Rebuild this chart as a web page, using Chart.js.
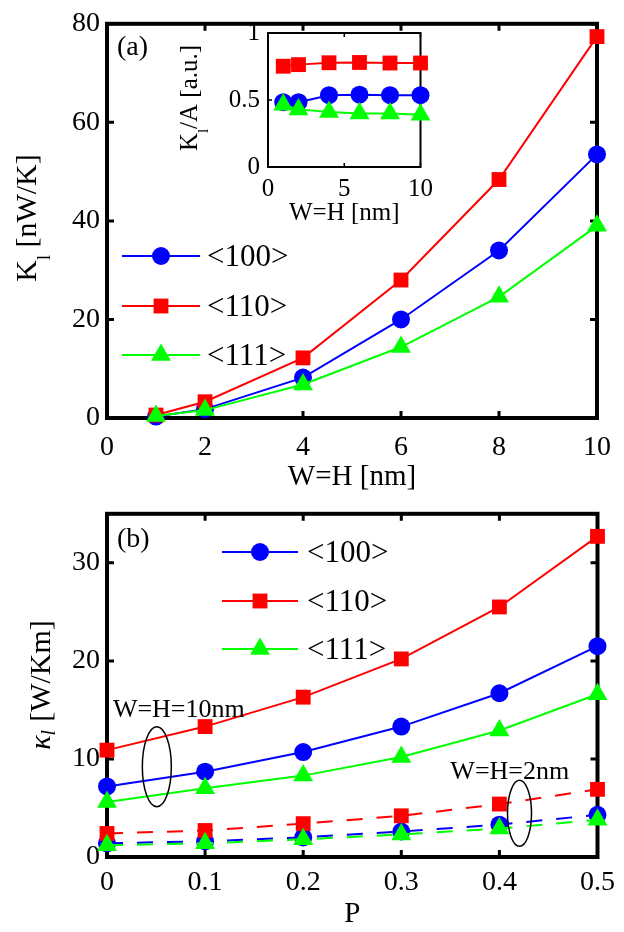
<!DOCTYPE html>
<html>
<head>
<meta charset="utf-8">
<script src="https://cdn.jsdelivr.net/npm/chart.js@4.4.0/dist/chart.umd.min.js"></script>
<style>
html, body { margin: 0; padding: 0; background: #fff; }
#page { position: relative; width: 624px; height: 932px; overflow: hidden; }
.box { position: absolute; }
</style>
</head>
<body>
<div id="page">
  <div class="box" style="left:0;top:0"><canvas id="chartA" width="624" height="495"></canvas></div>
  <div class="box" style="left:0;top:490px"><canvas id="chartB" width="624" height="442"></canvas></div>
  <div class="box" style="left:170px;top:10px"><canvas id="chartInset" width="270" height="218"></canvas></div>
</div>
<script>
// ---- data ----
const directions = ['<100>', '<110>', '<111>'];

// (a) thermal conductance vs wire size
const sizes = [1, 2, 4, 6, 8, 10];
const k100 = [0.3, 1.8, 8.2, 20.0, 34.0, 53.5];
const k110 = [0.6, 3.3, 12.2, 28.0, 48.4, 77.4];
const k111 = [0.4, 1.6, 6.8, 14.4, 24.6, 39.0];

// inset: conductance per area
const ka100 = [0.484, 0.484, 0.536, 0.540, 0.536, 0.536];
const ka110 = [0.752, 0.764, 0.778, 0.780, 0.776, 0.776];
const ka111 = [0.464, 0.430, 0.410, 0.400, 0.400, 0.390];

// (b) conductivity vs P
const pValues = [0, 0.1, 0.2, 0.3, 0.4, 0.5];
const kap100w10 = [7.2, 8.7, 10.7, 13.3, 16.7, 21.5];
const kap110w10 = [10.9, 13.3, 16.3, 20.2, 25.5, 32.7];
const kap111w10 = [5.6, 7.0, 8.3, 10.2, 12.9, 16.6];
const kap100w2 = [1.4, 1.6, 2.0, 2.6, 3.3, 4.3];
const kap110w2 = [2.4, 2.7, 3.4, 4.2, 5.4, 6.9];
const kap111w2 = [1.2, 1.4, 1.8, 2.3, 2.9, 3.8];

// tick labels
const xTicksA = [0, 2, 4, 6, 8, 10];
const yTicksA = [0, 20, 40, 60, 80];
const xTicksInset = [0, 5, 10];
const yTicksInset = [0, 0.5, 1];
const xTicksB = [0, 0.1, 0.2, 0.3, 0.4, 0.5];
const yTicksB = [0, 10, 20, 30];

// ---- styling ----
const SERIF = '"Liberation Serif", "Times New Roman", serif';
const looks = [
  { color: '#0000ff', pointStyle: 'circle', radius: 9, order: 2 },
  { color: '#ff0000', pointStyle: 'rect', radius: 10.5, order: 1 },
  { color: '#00ff00', pointStyle: 'triangle', radius: 11.5, order: 0 }
];

function series(xs, ys, i, dash) {
  const s = looks[i];
  return {
    label: directions[i],
    data: xs.map((x, j) => ({ x: x, y: ys[j] })),
    borderColor: s.color,
    backgroundColor: s.color,
    pointBackgroundColor: s.color,
    pointBorderWidth: 0,
    pointRadius: s.radius,
    pointStyle: s.pointStyle,
    borderWidth: 2,
    borderDash: dash || [],
    order: s.order,
    clip: false,
    tension: 0
  };
}

function fixedTicks(values) {
  return function (scale) { scale.ticks = values.map(v => ({ value: v })); };
}

// box frame + inward ticks on all four sides
const framePlugin = {
  id: 'frame',
  beforeDatasetsDraw(chart, args, o) {
    const { ctx, chartArea: a, scales } = chart;
    const x = scales.x, y = scales.y;
    ctx.save();
    ctx.strokeStyle = '#000';
    ctx.lineWidth = o.tickWidth;
    ctx.beginPath();
    x.ticks.forEach(t => {
      const px = x.getPixelForValue(t.value);
      ctx.moveTo(px, a.bottom); ctx.lineTo(px, a.bottom - o.tickLen);
      ctx.moveTo(px, a.top); ctx.lineTo(px, a.top + o.tickLen);
    });
    y.ticks.forEach(t => {
      const py = y.getPixelForValue(t.value);
      ctx.moveTo(a.left, py); ctx.lineTo(a.left + o.tickLen, py);
      ctx.moveTo(a.right, py); ctx.lineTo(a.right - o.tickLen, py);
    });
    ctx.stroke();
    ctx.lineWidth = o.width;
    ctx.strokeRect(a.left, a.top, a.right - a.left, a.bottom - a.top);
    ctx.restore();
  }
};

function drawRich(ctx, parts, bx, by, rotate) {
  ctx.save();
  ctx.translate(bx, by);
  if (rotate) ctx.rotate(-Math.PI / 2);
  ctx.fillStyle = '#000';
  ctx.textBaseline = 'alphabetic';
  ctx.textAlign = 'left';
  let total = 0;
  parts.forEach(p => { ctx.font = p.font; p.w = ctx.measureText(p.text).width; total += p.w + (p.gap || 0); });
  let x = -total / 2;
  parts.forEach(p => { ctx.font = p.font; ctx.fillText(p.text, x, p.dy || 0); x += p.w + (p.gap || 0); });
  ctx.restore();
}

// legend, labels, ellipses, y titles
const decorPlugin = {
  id: 'decor',
  afterDraw(chart, args, o) {
    const { ctx, scales } = chart;
    const x = scales.x, y = scales.y;
    ctx.save();
    if (o.legend) {
      const L = o.legend;
      L.items.forEach((di, k) => {
        const ds = chart.data.datasets[di];
        const ly = L.ys[k];
        ctx.strokeStyle = ds.borderColor;
        ctx.lineWidth = 2;
        ctx.setLineDash([]);
        ctx.beginPath(); ctx.moveTo(L.x1, ly); ctx.lineTo(L.x2, ly); ctx.stroke();
        ctx.fillStyle = ds.pointBackgroundColor;
        Chart.helpers.drawPoint(ctx, { pointStyle: ds.pointStyle, radius: ds.pointRadius, rotation: 0, borderWidth: 0 }, (L.x1 + L.x2) / 2, ly);
        ctx.fillStyle = '#000';
        ctx.font = L.font;
        ctx.textBaseline = 'alphabetic';
        ctx.textAlign = 'left';
        ctx.fillText(ds.label, L.textX, ly + L.baseShift);
      });
    }
    (o.texts || []).forEach(t => {
      ctx.fillStyle = '#000';
      ctx.font = t.font;
      ctx.textBaseline = 'alphabetic';
      ctx.textAlign = 'left';
      const px = t.data ? x.getPixelForValue(t.x) : t.x;
      const py = t.data ? y.getPixelForValue(t.y) : t.y;
      ctx.fillText(t.text, px, py);
    });
    (o.ellipses || []).forEach(e => {
      ctx.strokeStyle = '#000';
      ctx.lineWidth = 1.5;
      ctx.setLineDash([]);
      ctx.beginPath();
      ctx.ellipse(x.getPixelForValue(e.x), y.getPixelForValue(e.y), e.rx, e.ry, 0, 0, Math.PI * 2);
      ctx.stroke();
    });
    if (o.yTitle) drawRich(ctx, o.yTitle.parts, o.yTitle.bx, o.yTitle.by, true);
    ctx.restore();
  }
};

function axisOptions(ticks, min, max, size, pad, fitSize, isX, title, titleSize) {
  const opts = {
    type: 'linear',
    min: min,
    max: max,
    afterBuildTicks: fixedTicks(ticks),
    grid: { display: false, drawTicks: false },
    border: { display: false },
    ticks: { color: '#000', font: { family: SERIF, size: size }, padding: pad, callback: v => String(v) },
    afterFit(scale) { if (isX) scale.height = fitSize; else scale.width = fitSize; }
  };
  if (title) opts.title = { display: true, text: title, color: '#000', font: { family: SERIF, size: titleSize }, padding: { top: 0, bottom: 0 } };
  return opts;
}

function baseOptions(pad) {
  return {
    responsive: false,
    animation: false,
    events: [],
    layout: { padding: pad },
    plugins: { legend: { display: false }, tooltip: { enabled: false } }
  };
}

// ---- panel (a) ----
const optsA = baseOptions({ left: 0, top: 18, right: 20, bottom: 0 });
optsA.scales = {
  x: axisOptions(xTicksA, 0, 10, 28, 13, 77, true, 'W=H [nm]', 29),
  y: axisOptions(yTicksA, 0, 80, 28, 7, 107, false)
};
optsA.plugins.frame = { width: 4, tickWidth: 3, tickLen: 7 };
optsA.plugins.decor = {
  legend: { items: [0, 1, 2], x1: 122, x2: 200, textX: 207, ys: [256, 306, 355], font: '31px ' + SERIF, baseShift: 10 },
  texts: [{ text: '(a)', x: 117, y: 55, font: '28px ' + SERIF }],
  yTitle: {
    bx: 36, by: 218,
    parts: [
      { text: 'K', font: '30px ' + SERIF },
      { text: 'l', font: '18px ' + SERIF, dy: 14 },
      { text: ' [nW/K]', font: '30px ' + SERIF }
    ]
  }
};
new Chart(document.getElementById('chartA'), {
  type: 'line',
  data: { datasets: [series(sizes, k100, 0), series(sizes, k110, 1), series(sizes, k111, 2)] },
  options: optsA,
  plugins: [framePlugin, decorPlugin]
});

// ---- inset ----
const optsI = baseOptions({ left: 0, top: 17, right: 17, bottom: 0 });
optsI.scales = {
  x: axisOptions(xTicksInset, 0, 10, 25, 7, 61, true, 'W=H [nm]', 25),
  y: axisOptions(yTicksInset, 0, 1, 25, 8, 98, false)
};
optsI.plugins.frame = { width: 2, tickWidth: 1.5, tickLen: 4 };
optsI.plugins.decor = {
  yTitle: {
    bx: 27, by: 88,
    parts: [
      { text: 'K', font: '25px ' + SERIF },
      { text: 'l', font: '15px ' + SERIF, dy: 11 },
      { text: '/A [a.u.]', font: '25px ' + SERIF }
    ]
  }
};
new Chart(document.getElementById('chartInset'), {
  type: 'line',
  data: { datasets: [series(sizes, ka100, 0), series(sizes, ka110, 1), series(sizes, ka111, 2)] },
  options: optsI,
  plugins: [framePlugin, decorPlugin]
});

// ---- panel (b) ----
const optsB = baseOptions({ left: 0, top: 23, right: 20, bottom: 0 });
optsB.scales = {
  x: axisOptions(xTicksB, 0, 0.5, 28, 9, 75, true, 'P', 29),
  y: axisOptions(yTicksB, 0, 35, 28, 7, 107, false)
};
optsB.plugins.frame = { width: 4, tickWidth: 3, tickLen: 7 };
optsB.plugins.decor = {
  legend: { items: [0, 1, 2], x1: 222, x2: 298, textX: 307, ys: [62, 111, 159], font: '31px ' + SERIF, baseShift: 10 },
  texts: [
    { text: '(b)', x: 117, y: 57, font: '28px ' + SERIF },
    { text: 'W=H=10nm', x: 0.006, y: 14.3, data: true, font: '26px ' + SERIF },
    { text: 'W=H=2nm', x: 0.35, y: 8.0, data: true, font: '26px ' + SERIF }
  ],
  ellipses: [
    { x: 0.0508, y: 9.2, rx: 14.5, ry: 40 },
    { x: 0.4205, y: 4.45, rx: 12, ry: 33 }
  ],
  yTitle: {
    bx: 50, by: 195,
    parts: [
      { text: '\u03BA', font: 'italic 30px ' + SERIF },
      { text: 'l', font: 'italic 20px ' + SERIF, dy: 5, gap: 8 },
      { text: '[W/Km]', font: '30px ' + SERIF }
    ]
  }
};
new Chart(document.getElementById('chartB'), {
  type: 'line',
  data: {
    datasets: [
      series(pValues, kap100w10, 0), series(pValues, kap110w10, 1), series(pValues, kap111w10, 2),
      series(pValues, kap100w2, 0, [16, 14]), series(pValues, kap110w2, 1, [16, 14]), series(pValues, kap111w2, 2, [16, 14])
    ]
  },
  options: optsB,
  plugins: [framePlugin, decorPlugin]
});
</script>
</body>
</html>
